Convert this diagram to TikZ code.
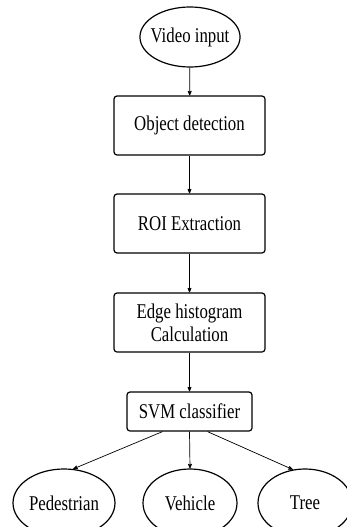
\documentclass[tikz,border=0pt]{standalone}
\usepackage{fontspec}
\setmainfont{Liberation Serif}[FakeStretch=0.8]
\usetikzlibrary{arrows}
\usetikzlibrary{shapes.geometric}
\tikzset{
every node/.style={draw, line width=1.2pt, font=\fontsize{21}{23}\selectfont, align=center, inner sep=0pt},
proc/.style={rectangle, rounded corners=3pt, minimum width=151pt, minimum height=59pt},
term/.style={ellipse, minimum width=94pt, minimum height=68pt},
link/.style={-stealth', line width=0.7pt}
}
\begin{document}
\begin{tikzpicture}[x=1pt,y=-1pt]
\clip (0,0) rectangle (347,527);
\node [term, inner xsep=-4pt, minimum width=100pt, minimum height=60pt] (video) at (190,37) {Video input};
\node [proc] (obj) at (189.5,125.5) {Object detection};
\node [proc] (roi) at (189.5,223.5) {ROI Extraction};
\node [proc] (edge) at (189.5,322.5) {Edge histogram\\Calculation};
\node [proc, minimum width=125pt, minimum height=39pt] (svm) at (189.5,411.5) {SVM classifier};
\node [term, inner xsep=-1pt, minimum width=102pt] (ped) at (64,503) {Pedestrian};
\node [term] (veh) at (190,503) {Vehicle};
\node [term] (tree) at (305,503) {Tree};

\draw[link] (video) -- (obj);
\draw[link] (obj) -- (roi);
\draw[link] (roi) -- (edge);
\draw[link] (edge) -- (svm);
\draw[link] ([xshift=-27pt]svm.south) -- (ped.75);
\draw[link] (svm.south) -- (veh.north);
\draw[link] ([xshift=18pt]svm.south) -- (tree.110);
\end{tikzpicture}
\end{document}
